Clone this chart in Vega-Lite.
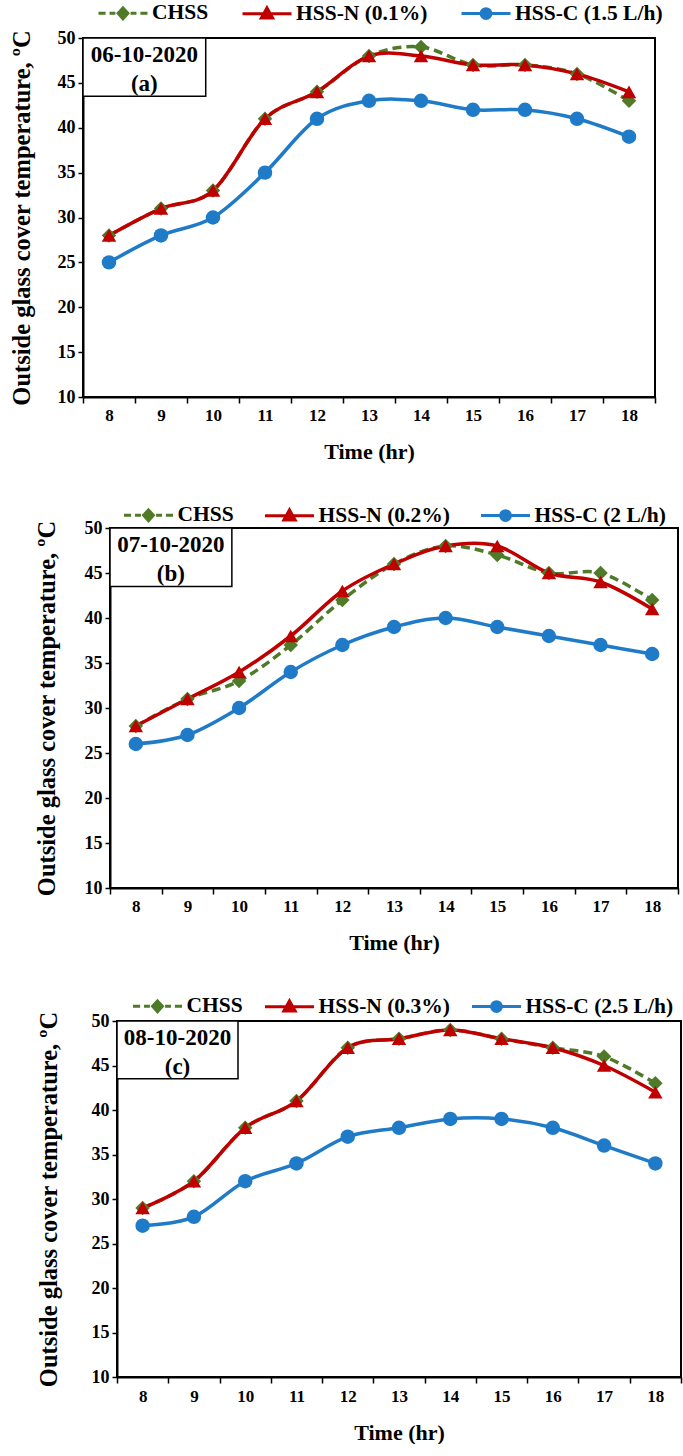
{
  "$schema": "https://vega.github.io/schema/vega-lite/v6.json",
  "padding": {"left": 0, "top": -14, "right": 0, "bottom": 0},
  "background": "white",
  "datasets": {
    "a": [
      {"time": 8, "series": "CHSS", "temp": 28}, {"time": 9, "series": "CHSS", "temp": 31}, {"time": 10, "series": "CHSS", "temp": 33}, {"time": 11, "series": "CHSS", "temp": 41}, {"time": 12, "series": "CHSS", "temp": 44}, {"time": 13, "series": "CHSS", "temp": 48}, {"time": 14, "series": "CHSS", "temp": 49}, {"time": 15, "series": "CHSS", "temp": 47}, {"time": 16, "series": "CHSS", "temp": 47}, {"time": 17, "series": "CHSS", "temp": 46}, {"time": 18, "series": "CHSS", "temp": 43},
      {"time": 8, "series": "HSS-N (0.1%)", "temp": 28}, {"time": 9, "series": "HSS-N (0.1%)", "temp": 31}, {"time": 10, "series": "HSS-N (0.1%)", "temp": 33}, {"time": 11, "series": "HSS-N (0.1%)", "temp": 41}, {"time": 12, "series": "HSS-N (0.1%)", "temp": 44}, {"time": 13, "series": "HSS-N (0.1%)", "temp": 48}, {"time": 14, "series": "HSS-N (0.1%)", "temp": 48}, {"time": 15, "series": "HSS-N (0.1%)", "temp": 47}, {"time": 16, "series": "HSS-N (0.1%)", "temp": 47}, {"time": 17, "series": "HSS-N (0.1%)", "temp": 46}, {"time": 18, "series": "HSS-N (0.1%)", "temp": 44},
      {"time": 8, "series": "HSS-C (1.5 L/h)", "temp": 25}, {"time": 9, "series": "HSS-C (1.5 L/h)", "temp": 28}, {"time": 10, "series": "HSS-C (1.5 L/h)", "temp": 30}, {"time": 11, "series": "HSS-C (1.5 L/h)", "temp": 35}, {"time": 12, "series": "HSS-C (1.5 L/h)", "temp": 41}, {"time": 13, "series": "HSS-C (1.5 L/h)", "temp": 43}, {"time": 14, "series": "HSS-C (1.5 L/h)", "temp": 43}, {"time": 15, "series": "HSS-C (1.5 L/h)", "temp": 42}, {"time": 16, "series": "HSS-C (1.5 L/h)", "temp": 42}, {"time": 17, "series": "HSS-C (1.5 L/h)", "temp": 41}, {"time": 18, "series": "HSS-C (1.5 L/h)", "temp": 39}
    ],
    "b": [
      {"time": 8, "series": "CHSS", "temp": 28}, {"time": 9, "series": "CHSS", "temp": 31}, {"time": 10, "series": "CHSS", "temp": 33}, {"time": 11, "series": "CHSS", "temp": 37}, {"time": 12, "series": "CHSS", "temp": 42}, {"time": 13, "series": "CHSS", "temp": 46}, {"time": 14, "series": "CHSS", "temp": 48}, {"time": 15, "series": "CHSS", "temp": 47}, {"time": 16, "series": "CHSS", "temp": 45}, {"time": 17, "series": "CHSS", "temp": 45}, {"time": 18, "series": "CHSS", "temp": 42},
      {"time": 8, "series": "HSS-N (0.2%)", "temp": 28}, {"time": 9, "series": "HSS-N (0.2%)", "temp": 31}, {"time": 10, "series": "HSS-N (0.2%)", "temp": 34}, {"time": 11, "series": "HSS-N (0.2%)", "temp": 38}, {"time": 12, "series": "HSS-N (0.2%)", "temp": 43}, {"time": 13, "series": "HSS-N (0.2%)", "temp": 46}, {"time": 14, "series": "HSS-N (0.2%)", "temp": 48}, {"time": 15, "series": "HSS-N (0.2%)", "temp": 48}, {"time": 16, "series": "HSS-N (0.2%)", "temp": 45}, {"time": 17, "series": "HSS-N (0.2%)", "temp": 44}, {"time": 18, "series": "HSS-N (0.2%)", "temp": 41},
      {"time": 8, "series": "HSS-C (2 L/h)", "temp": 26}, {"time": 9, "series": "HSS-C (2 L/h)", "temp": 27}, {"time": 10, "series": "HSS-C (2 L/h)", "temp": 30}, {"time": 11, "series": "HSS-C (2 L/h)", "temp": 34}, {"time": 12, "series": "HSS-C (2 L/h)", "temp": 37}, {"time": 13, "series": "HSS-C (2 L/h)", "temp": 39}, {"time": 14, "series": "HSS-C (2 L/h)", "temp": 40}, {"time": 15, "series": "HSS-C (2 L/h)", "temp": 39}, {"time": 16, "series": "HSS-C (2 L/h)", "temp": 38}, {"time": 17, "series": "HSS-C (2 L/h)", "temp": 37}, {"time": 18, "series": "HSS-C (2 L/h)", "temp": 36}
    ],
    "c": [
      {"time": 8, "series": "CHSS", "temp": 29}, {"time": 9, "series": "CHSS", "temp": 32}, {"time": 10, "series": "CHSS", "temp": 38}, {"time": 11, "series": "CHSS", "temp": 41}, {"time": 12, "series": "CHSS", "temp": 47}, {"time": 13, "series": "CHSS", "temp": 48}, {"time": 14, "series": "CHSS", "temp": 49}, {"time": 15, "series": "CHSS", "temp": 48}, {"time": 16, "series": "CHSS", "temp": 47}, {"time": 17, "series": "CHSS", "temp": 46}, {"time": 18, "series": "CHSS", "temp": 43},
      {"time": 8, "series": "HSS-N (0.3%)", "temp": 29}, {"time": 9, "series": "HSS-N (0.3%)", "temp": 32}, {"time": 10, "series": "HSS-N (0.3%)", "temp": 38}, {"time": 11, "series": "HSS-N (0.3%)", "temp": 41}, {"time": 12, "series": "HSS-N (0.3%)", "temp": 47}, {"time": 13, "series": "HSS-N (0.3%)", "temp": 48}, {"time": 14, "series": "HSS-N (0.3%)", "temp": 49}, {"time": 15, "series": "HSS-N (0.3%)", "temp": 48}, {"time": 16, "series": "HSS-N (0.3%)", "temp": 47}, {"time": 17, "series": "HSS-N (0.3%)", "temp": 45}, {"time": 18, "series": "HSS-N (0.3%)", "temp": 42},
      {"time": 8, "series": "HSS-C (2.5 L/h)", "temp": 27}, {"time": 9, "series": "HSS-C (2.5 L/h)", "temp": 28}, {"time": 10, "series": "HSS-C (2.5 L/h)", "temp": 32}, {"time": 11, "series": "HSS-C (2.5 L/h)", "temp": 34}, {"time": 12, "series": "HSS-C (2.5 L/h)", "temp": 37}, {"time": 13, "series": "HSS-C (2.5 L/h)", "temp": 38}, {"time": 14, "series": "HSS-C (2.5 L/h)", "temp": 39}, {"time": 15, "series": "HSS-C (2.5 L/h)", "temp": 39}, {"time": 16, "series": "HSS-C (2.5 L/h)", "temp": 38}, {"time": 17, "series": "HSS-C (2.5 L/h)", "temp": 36}, {"time": 18, "series": "HSS-C (2.5 L/h)", "temp": 34}
    ]
  },
  "vconcat": [
    {
      "hconcat": [
        {"width": 8, "height": 10, "data": {"values": [{}]}, "mark": {"type": "text", "text": ""}, "encoding": {}, "view": {"stroke": null}},
        {
          "width": 572, "height": 359,
          "data": {"name": "a"},
          "layer": [
            {
              "transform": [{"filter": "datum.series == 'CHSS'"}],
              "mark": {"type": "line", "interpolate": "cardinal", "strokeWidth": 3.5, "strokeDash": [9, 5], "color": "#4F7A28"},
              "encoding": {
                "x": {"field": "time", "type": "quantitative", "scale": {"domain": [7.5, 18.5], "nice": false, "zero": false},
                  "axis": {"values": [7.5, 8, 8.5, 9, 9.5, 10, 10.5, 11, 11.5, 12, 12.5, 13, 13.5, 14, 14.5, 15, 15.5, 16, 16.5, 17, 17.5, 18, 18.5], "tickCount": 40, "labelExpr": "datum.value == floor(datum.value) ? '' + datum.value : ''", "tickOpacity": {"condition": {"test": "datum.value != floor(datum.value)", "value": 1}, "value": 0}, "tickSize": 6, "labelFontSize": 17, "labelPadding": 4.5, "title": "Time (hr)", "titleFontSize": 22, "titlePadding": 17.5}},
                "y": {"field": "temp", "type": "quantitative", "scale": {"domain": [10, 50], "nice": false, "zero": false},
                  "axis": {"values": [10, 15, 20, 25, 30, 35, 40, 45, 50], "tickCount": 20, "tickSize": 5, "labelFontSize": 18, "labelPadding": 3, "title": "Outside glass cover temperature, ºC", "titleFontSize": 24.5, "titlePadding": 23}}
              }
            },
            {
              "transform": [{"filter": "datum.series != 'CHSS'"}],
              "mark": {"type": "line", "interpolate": "cardinal", "strokeWidth": 3.5},
              "encoding": {
                "x": {"field": "time", "type": "quantitative"},
                "y": {"field": "temp", "type": "quantitative"},
                "color": {"field": "series", "type": "nominal", "scale": {"domain": ["CHSS", "HSS-N (0.1%)", "HSS-C (1.5 L/h)"], "range": ["#4F7A28", "#C00000", "#1F7BC8"]},
                  "legend": {"orient": "none", "legendX": 14, "legendY": -51, "direction": "horizontal", "title": null, "symbolSize": 2401, "symbolStrokeWidth": 3, "labelFontSize": 21.5, "labelFont": "Liberation Serif", "labelFontWeight": "bold", "labelColor": "black", "labelOffset": 3, "columnPadding": 27, "padding": 0, "labelLimit": 400,
                    "encode": {"symbols": {"update": {
                      "shape": {"signal": "datum.value == 'CHSS' ? 'M-1,0L-0.71,0M-0.55,0L-0.31,0M0.31,0L0.55,0M0.71,0L1,0M0,-0.22L0.2,0L0,0.22L-0.2,0Z' : indexof(datum.value, 'HSS-N') >= 0 ? 'M-1,0L1,0M0,-0.24L0.23,0.17L-0.23,0.17Z' : 'M-1,0L1,0M0.2,0A0.2,0.2 0 1,1 -0.2,0A0.2,0.2 0 1,1 0.2,0Z'"},
                      "fill": {"signal": "datum.value == 'CHSS' ? '#4F7A28' : indexof(datum.value, 'HSS-N') >= 0 ? '#C00000' : '#1F7BC8'"},
                      "stroke": {"signal": "datum.value == 'CHSS' ? '#4F7A28' : indexof(datum.value, 'HSS-N') >= 0 ? '#C00000' : '#1F7BC8'"},
                      "strokeWidth": {"value": 3}, "size": {"value": 2401}, "opacity": {"value": 1}, "fillOpacity": {"value": 1}, "strokeOpacity": {"value": 1}
                    }}}}}
              }
            },
            {
              "transform": [{"filter": "datum.series == 'CHSS'"}],
              "mark": {"type": "point", "filled": true, "opacity": 1, "size": 210, "shape": "diamond", "color": "#4F7A28"},
              "encoding": {"x": {"field": "time", "type": "quantitative"}, "y": {"field": "temp", "type": "quantitative"}}
            },
            {
              "transform": [{"filter": "indexof(datum.series, 'HSS-N') >= 0"}],
              "mark": {"type": "point", "filled": true, "opacity": 1, "size": 210, "shape": "triangle-up", "color": "#C00000"},
              "encoding": {"x": {"field": "time", "type": "quantitative"}, "y": {"field": "temp", "type": "quantitative"}}
            },
            {
              "transform": [{"filter": "indexof(datum.series, 'HSS-C') >= 0"}],
              "mark": {"type": "point", "filled": true, "opacity": 1, "size": 210, "shape": "circle", "color": "#1F7BC8"},
              "encoding": {"x": {"field": "time", "type": "quantitative"}, "y": {"field": "temp", "type": "quantitative"}}
            },
            {
              "data": {"values": [{}]},
              "mark": {"type": "rect", "fill": "white", "stroke": "black", "strokeWidth": 1.5},
              "encoding": {"x": {"datum": 7.5, "type": "quantitative"}, "x2": {"datum": 9.86}, "y": {"datum": 50, "type": "quantitative"}, "y2": {"datum": 43.5}}
            },
            {
              "data": {"values": [{}]},
              "mark": {"type": "text", "text": ["06-10-2020", "(a)"], "lineHeight": 28.7, "fontSize": 23, "fontWeight": "bold", "font": "Liberation Serif", "baseline": "middle", "align": "center", "color": "black"},
              "encoding": {"x": {"datum": 8.68, "type": "quantitative"}, "y": {"datum": 48.1, "type": "quantitative"}}
            }
          ]
        }
      ],
      "spacing": 0,
      "resolve": {"scale": {"color": "independent"}, "legend": {"color": "independent"}}
    },
    {
      "hconcat": [
        {"width": 33, "height": 10, "data": {"values": [{}]}, "mark": {"type": "text", "text": ""}, "encoding": {}, "view": {"stroke": null}},
        {
          "width": 568, "height": 360,
          "data": {"name": "b"},
          "layer": [
            {
              "transform": [{"filter": "datum.series == 'CHSS'"}],
              "mark": {"type": "line", "interpolate": "cardinal", "strokeWidth": 3.5, "strokeDash": [9, 5], "color": "#4F7A28"},
              "encoding": {
                "x": {"field": "time", "type": "quantitative", "scale": {"domain": [7.5, 18.5], "nice": false, "zero": false},
                  "axis": {"values": [7.5, 8, 8.5, 9, 9.5, 10, 10.5, 11, 11.5, 12, 12.5, 13, 13.5, 14, 14.5, 15, 15.5, 16, 16.5, 17, 17.5, 18, 18.5], "tickCount": 40, "labelExpr": "datum.value == floor(datum.value) ? '' + datum.value : ''", "tickOpacity": {"condition": {"test": "datum.value != floor(datum.value)", "value": 1}, "value": 0}, "tickSize": 6, "labelFontSize": 17, "labelPadding": 4.5, "title": "Time (hr)", "titleFontSize": 22, "titlePadding": 17.5}},
                "y": {"field": "temp", "type": "quantitative", "scale": {"domain": [10, 50], "nice": false, "zero": false},
                  "axis": {"values": [10, 15, 20, 25, 30, 35, 40, 45, 50], "tickCount": 20, "tickSize": 5, "labelFontSize": 18, "labelPadding": 3, "title": "Outside glass cover temperature, ºC", "titleFontSize": 24.5, "titlePadding": 25}}
              }
            },
            {
              "transform": [{"filter": "datum.series != 'CHSS'"}],
              "mark": {"type": "line", "interpolate": "cardinal", "strokeWidth": 3.5},
              "encoding": {
                "x": {"field": "time", "type": "quantitative"},
                "y": {"field": "temp", "type": "quantitative"},
                "color": {"field": "series", "type": "nominal", "scale": {"domain": ["CHSS", "HSS-N (0.2%)", "HSS-C (2 L/h)"], "range": ["#4F7A28", "#C00000", "#1F7BC8"]},
                  "legend": {"orient": "none", "legendX": 12.5, "legendY": -39, "direction": "horizontal", "title": null, "symbolSize": 2401, "symbolStrokeWidth": 3, "labelFontSize": 21.5, "labelFont": "Liberation Serif", "labelFontWeight": "bold", "labelColor": "black", "labelOffset": 3, "columnPadding": 24, "padding": 0, "labelLimit": 400,
                    "encode": {"symbols": {"update": {
                      "shape": {"signal": "datum.value == 'CHSS' ? 'M-1,0L-0.71,0M-0.55,0L-0.31,0M0.31,0L0.55,0M0.71,0L1,0M0,-0.22L0.2,0L0,0.22L-0.2,0Z' : indexof(datum.value, 'HSS-N') >= 0 ? 'M-1,0L1,0M0,-0.24L0.23,0.17L-0.23,0.17Z' : 'M-1,0L1,0M0.2,0A0.2,0.2 0 1,1 -0.2,0A0.2,0.2 0 1,1 0.2,0Z'"},
                      "fill": {"signal": "datum.value == 'CHSS' ? '#4F7A28' : indexof(datum.value, 'HSS-N') >= 0 ? '#C00000' : '#1F7BC8'"},
                      "stroke": {"signal": "datum.value == 'CHSS' ? '#4F7A28' : indexof(datum.value, 'HSS-N') >= 0 ? '#C00000' : '#1F7BC8'"},
                      "strokeWidth": {"value": 3}, "size": {"value": 2401}, "opacity": {"value": 1}, "fillOpacity": {"value": 1}, "strokeOpacity": {"value": 1}
                    }}}}}
              }
            },
            {
              "transform": [{"filter": "datum.series == 'CHSS'"}],
              "mark": {"type": "point", "filled": true, "opacity": 1, "size": 210, "shape": "diamond", "color": "#4F7A28"},
              "encoding": {"x": {"field": "time", "type": "quantitative"}, "y": {"field": "temp", "type": "quantitative"}}
            },
            {
              "transform": [{"filter": "indexof(datum.series, 'HSS-N') >= 0"}],
              "mark": {"type": "point", "filled": true, "opacity": 1, "size": 210, "shape": "triangle-up", "color": "#C00000"},
              "encoding": {"x": {"field": "time", "type": "quantitative"}, "y": {"field": "temp", "type": "quantitative"}}
            },
            {
              "transform": [{"filter": "indexof(datum.series, 'HSS-C') >= 0"}],
              "mark": {"type": "point", "filled": true, "opacity": 1, "size": 210, "shape": "circle", "color": "#1F7BC8"},
              "encoding": {"x": {"field": "time", "type": "quantitative"}, "y": {"field": "temp", "type": "quantitative"}}
            },
            {
              "data": {"values": [{}]},
              "mark": {"type": "rect", "fill": "white", "stroke": "black", "strokeWidth": 1.5},
              "encoding": {"x": {"datum": 7.5, "type": "quantitative"}, "x2": {"datum": 9.86}, "y": {"datum": 50, "type": "quantitative"}, "y2": {"datum": 43.5}}
            },
            {
              "data": {"values": [{}]},
              "mark": {"type": "text", "text": ["07-10-2020", "(b)"], "lineHeight": 28.7, "fontSize": 23, "fontWeight": "bold", "font": "Liberation Serif", "baseline": "middle", "align": "center", "color": "black"},
              "encoding": {"x": {"datum": 8.68, "type": "quantitative"}, "y": {"datum": 48.1, "type": "quantitative"}}
            }
          ]
        }
      ],
      "spacing": 0,
      "resolve": {"scale": {"color": "independent"}, "legend": {"color": "independent"}}
    },
    {
      "hconcat": [
        {"width": 35, "height": 10, "data": {"values": [{}]}, "mark": {"type": "text", "text": ""}, "encoding": {}, "view": {"stroke": null}},
        {
          "width": 564, "height": 356,
          "data": {"name": "c"},
          "layer": [
            {
              "transform": [{"filter": "datum.series == 'CHSS'"}],
              "mark": {"type": "line", "interpolate": "cardinal", "strokeWidth": 3.5, "strokeDash": [9, 5], "color": "#4F7A28"},
              "encoding": {
                "x": {"field": "time", "type": "quantitative", "scale": {"domain": [7.5, 18.5], "nice": false, "zero": false},
                  "axis": {"values": [7.5, 8, 8.5, 9, 9.5, 10, 10.5, 11, 11.5, 12, 12.5, 13, 13.5, 14, 14.5, 15, 15.5, 16, 16.5, 17, 17.5, 18, 18.5], "tickCount": 40, "labelExpr": "datum.value == floor(datum.value) ? '' + datum.value : ''", "tickOpacity": {"condition": {"test": "datum.value != floor(datum.value)", "value": 1}, "value": 0}, "tickSize": 6, "labelFontSize": 17, "labelPadding": 5.5, "title": "Time (hr)", "titleFontSize": 22, "titlePadding": 17.5}},
                "y": {"field": "temp", "type": "quantitative", "scale": {"domain": [10, 50], "nice": false, "zero": false},
                  "axis": {"values": [10, 15, 20, 25, 30, 35, 40, 45, 50], "tickCount": 20, "tickSize": 5, "labelFontSize": 18, "labelPadding": 3, "title": "Outside glass cover temperature, ºC", "titleFontSize": 24.5, "titlePadding": 30}}
              }
            },
            {
              "transform": [{"filter": "datum.series != 'CHSS'"}],
              "mark": {"type": "line", "interpolate": "cardinal", "strokeWidth": 3.5},
              "encoding": {
                "x": {"field": "time", "type": "quantitative"},
                "y": {"field": "temp", "type": "quantitative"},
                "color": {"field": "series", "type": "nominal", "scale": {"domain": ["CHSS", "HSS-N (0.3%)", "HSS-C (2.5 L/h)"], "range": ["#4F7A28", "#C00000", "#1F7BC8"]},
                  "legend": {"orient": "none", "legendX": 14.5, "legendY": -41, "direction": "horizontal", "title": null, "symbolSize": 2401, "symbolStrokeWidth": 3, "labelFontSize": 21.5, "labelFont": "Liberation Serif", "labelFontWeight": "bold", "labelColor": "black", "labelOffset": 3, "columnPadding": 15, "padding": 0, "labelLimit": 400,
                    "encode": {"symbols": {"update": {
                      "shape": {"signal": "datum.value == 'CHSS' ? 'M-1,0L-0.71,0M-0.55,0L-0.31,0M0.31,0L0.55,0M0.71,0L1,0M0,-0.22L0.2,0L0,0.22L-0.2,0Z' : indexof(datum.value, 'HSS-N') >= 0 ? 'M-1,0L1,0M0,-0.24L0.23,0.17L-0.23,0.17Z' : 'M-1,0L1,0M0.2,0A0.2,0.2 0 1,1 -0.2,0A0.2,0.2 0 1,1 0.2,0Z'"},
                      "fill": {"signal": "datum.value == 'CHSS' ? '#4F7A28' : indexof(datum.value, 'HSS-N') >= 0 ? '#C00000' : '#1F7BC8'"},
                      "stroke": {"signal": "datum.value == 'CHSS' ? '#4F7A28' : indexof(datum.value, 'HSS-N') >= 0 ? '#C00000' : '#1F7BC8'"},
                      "strokeWidth": {"value": 3}, "size": {"value": 2401}, "opacity": {"value": 1}, "fillOpacity": {"value": 1}, "strokeOpacity": {"value": 1}
                    }}}}}
              }
            },
            {
              "transform": [{"filter": "datum.series == 'CHSS'"}],
              "mark": {"type": "point", "filled": true, "opacity": 1, "size": 210, "shape": "diamond", "color": "#4F7A28"},
              "encoding": {"x": {"field": "time", "type": "quantitative"}, "y": {"field": "temp", "type": "quantitative"}}
            },
            {
              "transform": [{"filter": "indexof(datum.series, 'HSS-N') >= 0"}],
              "mark": {"type": "point", "filled": true, "opacity": 1, "size": 210, "shape": "triangle-up", "color": "#C00000"},
              "encoding": {"x": {"field": "time", "type": "quantitative"}, "y": {"field": "temp", "type": "quantitative"}}
            },
            {
              "transform": [{"filter": "indexof(datum.series, 'HSS-C') >= 0"}],
              "mark": {"type": "point", "filled": true, "opacity": 1, "size": 210, "shape": "circle", "color": "#1F7BC8"},
              "encoding": {"x": {"field": "time", "type": "quantitative"}, "y": {"field": "temp", "type": "quantitative"}}
            },
            {
              "data": {"values": [{}]},
              "mark": {"type": "rect", "fill": "white", "stroke": "black", "strokeWidth": 1.5},
              "encoding": {"x": {"datum": 7.5, "type": "quantitative"}, "x2": {"datum": 9.86}, "y": {"datum": 50, "type": "quantitative"}, "y2": {"datum": 43.5}}
            },
            {
              "data": {"values": [{}]},
              "mark": {"type": "text", "text": ["08-10-2020", "(c)"], "lineHeight": 28.7, "fontSize": 23, "fontWeight": "bold", "font": "Liberation Serif", "baseline": "middle", "align": "center", "color": "black"},
              "encoding": {"x": {"datum": 8.68, "type": "quantitative"}, "y": {"datum": 48.1, "type": "quantitative"}}
            }
          ]
        }
      ],
      "spacing": 0,
      "resolve": {"scale": {"color": "independent"}, "legend": {"color": "independent"}}
    }
  ],
  "spacing": 25,
  "resolve": {"scale": {"color": "independent"}, "legend": {"color": "independent"}},
  "config": {
    "font": "Liberation Serif",
    "view": {"stroke": "black", "strokeWidth": 2},
    "axis": {"labelFont": "Liberation Serif", "labelFontWeight": "bold", "labelColor": "black", "titleFont": "Liberation Serif", "titleFontWeight": "bold", "titleColor": "black", "domainColor": "black", "domainWidth": 2, "tickColor": "black", "tickWidth": 1.5, "grid": false, "labelOverlap": false, "labelBound": false, "labelFlush": false}
  }
}
